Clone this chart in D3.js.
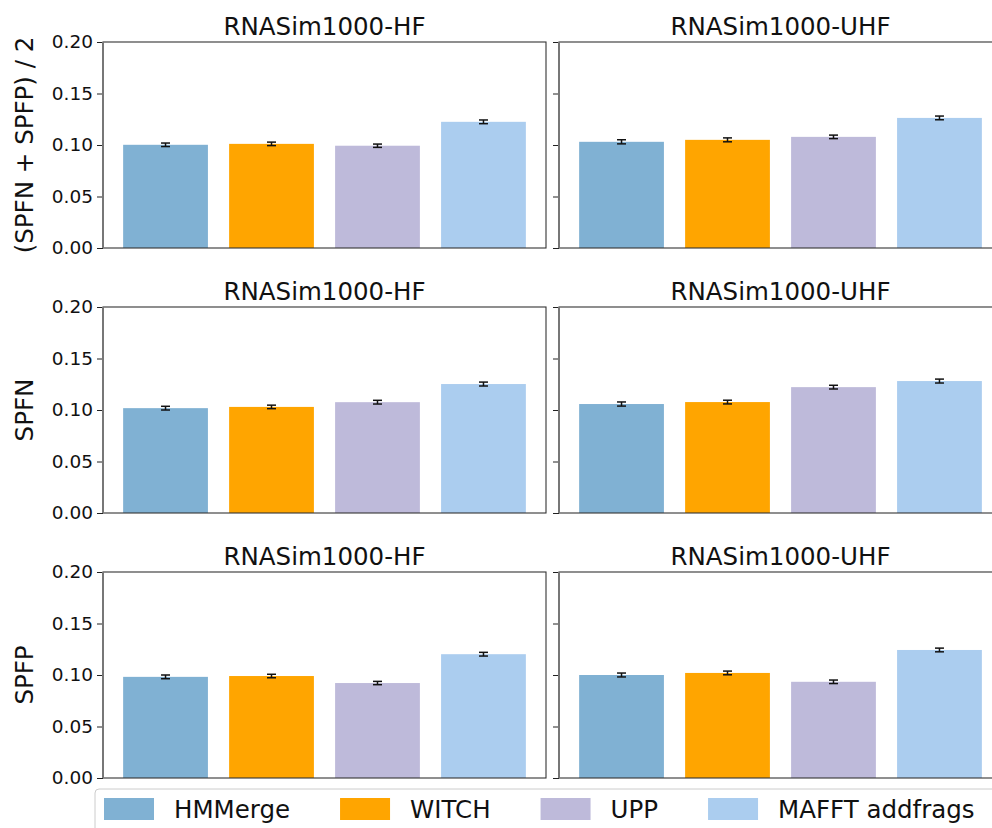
<!DOCTYPE html>
<html><head><meta charset="utf-8">
<script src="https://cdn.jsdelivr.net/npm/d3@7"></script>
<style>body{margin:0;background:#fff;}svg{display:block;font-family:"DejaVu Sans",sans-serif;}</style>
</head><body>
<svg id="c" width="992" height="828"></svg>
<script>
const methods = ["HMMerge", "WITCH", "UPP", "MAFFT addfrags"];
const colors = ["#80b1d3", "#ffa500", "#bebada", "#abcdef"];
const datasets = ["RNASim1000-HF", "RNASim1000-UHF"];
const metrics = ["(SPFN + SPFP) / 2", "SPFN", "SPFP"];
const yTicks = [0, 0.05, 0.10, 0.15, 0.20];
// values[metric][dataset][method]
const avgHF  = [0.1002, 0.1011, 0.0993, 0.1225];
const avgUHF = [0.1031, 0.1050, 0.1079, 0.1263];
const spfnHF  = [0.1018, 0.1030, 0.1076, 0.1252];
const spfnUHF = [0.1058, 0.1077, 0.1222, 0.1281];
const spfpHF  = [0.0982, 0.0990, 0.0922, 0.1202];
const spfpUHF = [0.1000, 0.1020, 0.0934, 0.1243];
const errAvgHF  = [0.0017, 0.0017, 0.0016, 0.0018];
const errAvgUHF = [0.0020, 0.0019, 0.0017, 0.0018];
const errSpfnHF  = [0.0018, 0.0017, 0.0018, 0.0019];
const errSpfnUHF = [0.0020, 0.0018, 0.0018, 0.0019];
const errSpfpHF  = [0.0018, 0.0017, 0.0016, 0.0018];
const errSpfpUHF = [0.0019, 0.0018, 0.0017, 0.0018];
const values = [[avgHF, avgUHF], [spfnHF, spfnUHF], [spfpHF, spfpUHF]];
const errors = [[errAvgHF, errAvgUHF], [errSpfnHF, errSpfnUHF], [errSpfpHF, errSpfpUHF]];

const svg = d3.select("#c");
const W = 443, H = 206;
const colX = [103, 559];
const rowY = [42, 307, 572];
const x = d3.scaleBand().domain(methods).range([0, W]).paddingInner(0.2).paddingOuter(0.19);
const y = d3.scaleLinear().domain([0, 0.2]).range([H, 0]);
const color = d3.scaleOrdinal().domain(methods).range(colors);

metrics.forEach((m, r) => {
  datasets.forEach((ds, c) => {
    const g = svg.append("g").attr("transform", `translate(${colX[c]},${rowY[r]})`);
    const vals = values[r][c], errs = errors[r][c];
    g.selectAll("rect.bar").data(methods).join("rect").attr("class","bar")
      .attr("x", d => x(d)).attr("width", x.bandwidth())
      .attr("y", (d,i) => y(vals[i])).attr("height", (d,i) => H - y(vals[i]))
      .attr("fill", d => color(d));
    // error bars
    const eb = g.selectAll("g.eb").data(methods).join("g").attr("class","eb")
      .attr("transform", d => `translate(${x(d) + x.bandwidth()/2},0)`);
    eb.append("line").attr("y1", (d,i)=>y(vals[i]-errs[i])).attr("y2",(d,i)=>y(vals[i]+errs[i]))
      .attr("stroke","#111").attr("stroke-width",1.5);
    eb.append("line").attr("x1",-4.5).attr("x2",4.5).attr("y1",(d,i)=>y(vals[i]-errs[i])).attr("y2",(d,i)=>y(vals[i]-errs[i]))
      .attr("stroke","#111").attr("stroke-width",1.5);
    eb.append("line").attr("x1",-4.5).attr("x2",4.5).attr("y1",(d,i)=>y(vals[i]+errs[i])).attr("y2",(d,i)=>y(vals[i]+errs[i]))
      .attr("stroke","#111").attr("stroke-width",1.5);
    // y axis
    const ax = g.append("g").call(d3.axisLeft(y).tickValues(yTicks).tickSize(6).tickPadding(4)
        .tickFormat(c === 0 ? d3.format(".2f") : () => ""));
    ax.select(".domain").remove();
    ax.selectAll(".tick line").attr("stroke","#222").attr("stroke-width",1);
    ax.selectAll(".tick text").attr("font-size", 18.5).attr("fill","#111").attr("font-family","DejaVu Sans");
    // frame
    g.append("rect").attr("x",0).attr("y",0).attr("width",W).attr("height",H)
      .attr("fill","none").attr("stroke","#333").attr("stroke-width",1.1);
    g.append("line").attr("x1",0).attr("x2",0).attr("y1",0).attr("y2",H).attr("stroke","#777").attr("stroke-width",2);
    // title
    g.append("text").attr("x", W/2).attr("y", -7).attr("text-anchor","middle")
      .attr("font-size", 24.5).attr("fill","#111").text(ds);
    if (c === 0) {
      g.append("text").attr("transform", `translate(${-70},${H/2}) rotate(-90)`)
        .attr("text-anchor","middle").attr("font-size", 24.5).attr("fill","#111").text(m);
    }
  });
});

// legend
const lg = svg.append("g");
lg.append("rect").attr("x",95).attr("y",789).attr("width",920).attr("height",70).attr("rx",4)
  .attr("fill","#fff").attr("stroke","#ccc").attr("stroke-width",1);
const fs = 24.5;
let cx = 104;
methods.forEach((m) => {
  lg.append("rect").attr("x",cx).attr("y",798).attr("width",50).attr("height",22).attr("fill",color(m));
  const t = lg.append("text").attr("x",cx+70).attr("y",818).attr("font-size",fs).attr("fill","#111").text(m);
  cx = cx + 70 + t.node().getComputedTextLength() + 50;
});
</script>
</body></html>
